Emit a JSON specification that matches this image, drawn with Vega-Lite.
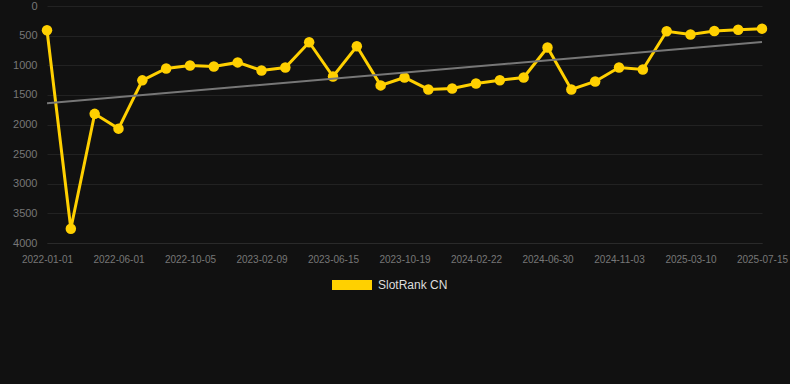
{
  "$schema": "https://vega.github.io/schema/vega-lite/v6.json",
  "width": 715,
  "height": 237,
  "autosize": "none",
  "padding": {"left": 47, "top": 6, "right": 28, "bottom": 141},
  "background": "#111111",
  "config": {
    "view": {"stroke": null},
    "font": "Liberation Sans",
    "axis": {"gridColor": "#222222", "gridWidth": 1, "labelColor": "#777777", "domain": false, "ticks": false}
  },
  "datasets": {
    "main": [
      {"date": "2022-01-01", "rank": 410, "series": "SlotRank CN"},
      {"date": "2022-02-20", "rank": 3760, "series": "SlotRank CN"},
      {"date": "2022-04-11", "rank": 1820, "series": "SlotRank CN"},
      {"date": "2022-06-01", "rank": 2070, "series": "SlotRank CN"},
      {"date": "2022-07-13", "rank": 1255, "series": "SlotRank CN"},
      {"date": "2022-08-24", "rank": 1055, "series": "SlotRank CN"},
      {"date": "2022-10-05", "rank": 1005, "series": "SlotRank CN"},
      {"date": "2022-11-17", "rank": 1020, "series": "SlotRank CN"},
      {"date": "2022-12-29", "rank": 952, "series": "SlotRank CN"},
      {"date": "2023-02-09", "rank": 1088, "series": "SlotRank CN"},
      {"date": "2023-03-23", "rank": 1038, "series": "SlotRank CN"},
      {"date": "2023-05-04", "rank": 612, "series": "SlotRank CN"},
      {"date": "2023-06-15", "rank": 1190, "series": "SlotRank CN"},
      {"date": "2023-07-27", "rank": 680, "series": "SlotRank CN"},
      {"date": "2023-09-07", "rank": 1340, "series": "SlotRank CN"},
      {"date": "2023-10-19", "rank": 1206, "series": "SlotRank CN"},
      {"date": "2023-11-30", "rank": 1408, "series": "SlotRank CN"},
      {"date": "2024-01-11", "rank": 1392, "series": "SlotRank CN"},
      {"date": "2024-02-22", "rank": 1308, "series": "SlotRank CN"},
      {"date": "2024-04-05", "rank": 1252, "series": "SlotRank CN"},
      {"date": "2024-05-18", "rank": 1206, "series": "SlotRank CN"},
      {"date": "2024-06-30", "rank": 700, "series": "SlotRank CN"},
      {"date": "2024-08-11", "rank": 1408, "series": "SlotRank CN"},
      {"date": "2024-09-22", "rank": 1274, "series": "SlotRank CN"},
      {"date": "2024-11-03", "rank": 1038, "series": "SlotRank CN"},
      {"date": "2024-12-15", "rank": 1072, "series": "SlotRank CN"},
      {"date": "2025-01-26", "rank": 427, "series": "SlotRank CN"},
      {"date": "2025-03-10", "rank": 482, "series": "SlotRank CN"},
      {"date": "2025-04-21", "rank": 421, "series": "SlotRank CN"},
      {"date": "2025-06-02", "rank": 400, "series": "SlotRank CN"},
      {"date": "2025-07-15", "rank": 382, "series": "SlotRank CN"}
    ],
    "trend": [
      {"date": "2022-01-01", "rank": 1640},
      {"date": "2025-07-15", "rank": 606}
    ]
  },
  "encoding": {
    "x": {
      "field": "date", "type": "ordinal", "sort": null,
      "scale": {"type": "point", "padding": 0},
      "axis": {
        "title": null, "labelAngle": 0, "labelFontSize": 10, "labelPadding": 11,
        "values": ["2022-01-01", "2022-06-01", "2022-10-05", "2023-02-09", "2023-06-15", "2023-10-19", "2024-02-22", "2024-06-30", "2024-11-03", "2025-03-10", "2025-07-15"],
        "domain": true, "domainColor": "#2a2a2a"
      }
    },
    "y": {
      "field": "rank", "type": "quantitative",
      "scale": {"domain": [0, 4000], "reverse": true, "nice": false},
      "axis": {"title": null, "format": "d", "values": [0, 500, 1000, 1500, 2000, 2500, 3000, 3500, 4000], "labelFontSize": 11, "labelPadding": 10}
    }
  },
  "layer": [
    {
      "data": {"name": "main"},
      "mark": {"type": "line", "strokeWidth": 3, "point": {"filled": true, "size": 110, "opacity": 1}},
      "encoding": {
        "color": {
          "field": "series", "type": "nominal",
          "scale": {"domain": ["SlotRank CN"], "range": ["#FFD000"]},
          "legend": {
            "title": null, "orient": "none", "legendX": 285, "legendY": 259,
            "labelColor": "#dddddd", "labelFontSize": 12, "labelOffset": 6,
            "symbolSize": 1600,
            "encode": {
              "symbols": {
                "update": {
                  "shape": {"value": "M-1,-0.25L1,-0.25L1,0.25L-1,0.25Z"},
                  "fill": {"value": "#FFD000"},
                  "stroke": {"value": "#FFD000"},
                  "strokeWidth": {"value": 0},
                  "opacity": {"value": 1}
                }
              }
            }
          }
        }
      }
    },
    {
      "data": {"name": "trend"},
      "mark": {"type": "line", "color": "#777777", "strokeWidth": 2}
    }
  ]
}
